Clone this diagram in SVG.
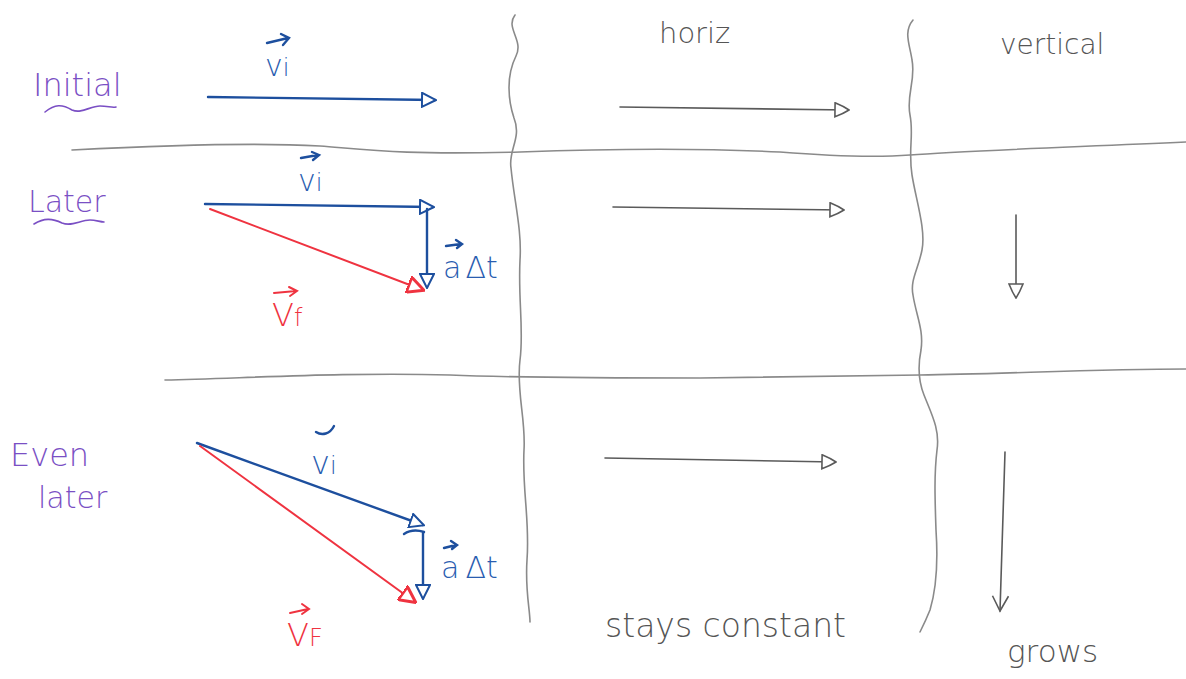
<svg xmlns="http://www.w3.org/2000/svg" width="1186" height="679" viewBox="0 0 1186 679">
<style>
.pencil{fill:none;stroke:#8a8a8a;stroke-width:1.6;stroke-linecap:round}
.garrow{fill:none;stroke:#5a5a5a;stroke-width:1.6;stroke-linecap:round}
.blue{fill:none;stroke:#1d4f9e;stroke-width:2.4;stroke-linecap:round}
.red{fill:none;stroke:#ef3340;stroke-width:2;stroke-linecap:round}
.lbl{font-family:"DejaVu Sans","Liberation Sans",sans-serif;font-weight:300}
.purple{fill:#7a4fc4}
.bluet{fill:#2a5db0}
.redt{fill:#ef3340}
.grayt{fill:#555}
.wave{fill:none;stroke:#7a4fc4;stroke-width:1.6;stroke-linecap:round}
</style>
<defs>
<marker id="hb" viewBox="0 0 16 16" refX="14" refY="8" markerWidth="16" markerHeight="16" markerUnits="userSpaceOnUse" orient="auto">
<path d="M1,1 L15,8 L1,15 Z" fill="#fff" stroke="#1d4f9e" stroke-width="2"/>
</marker>
<marker id="hr" viewBox="0 0 18 18" refX="16" refY="9" markerWidth="18" markerHeight="18" markerUnits="userSpaceOnUse" orient="auto">
<path d="M1,1 L17,9 L1,17 Z" fill="#fff" stroke="#ef3340" stroke-width="3"/>
</marker>
<marker id="hg" viewBox="0 0 16 16" refX="14" refY="8" markerWidth="16" markerHeight="16" markerUnits="userSpaceOnUse" orient="auto">
<path d="M1,1 C6,3 12,6 15,8 C12,10 6,13 1,15 Z" fill="#fff" stroke="#5a5a5a" stroke-width="1.6"/>
</marker>
<marker id="hv" viewBox="0 0 18 18" refX="16" refY="9" markerWidth="18" markerHeight="18" markerUnits="userSpaceOnUse" orient="auto">
<path d="M1,1 L16,9 L1,17" fill="none" stroke="#5a5a5a" stroke-width="1.6"/>
</marker>
</defs>

<g id="dividers">
<path class="pencil" d="M515,15 C505,28 524,40 516,56 C506,76 508,100 514,118 C522,138 508,150 511,168 C514,200 522,230 520,260 C518,300 524,330 520,360 C516,390 526,420 524,450 C522,490 530,520 527,560 C525,590 530,610 530,622"/>
<path class="pencil" d="M913,20 C903,32 910,45 912,60 C916,80 906,95 910,115 C914,135 908,150 912,175 C916,200 926,230 922,250 C918,270 910,280 913,295 C916,315 924,330 921,350 C918,365 918,380 924,395 C932,415 940,430 937,450 C934,475 935,500 936,530 C938,560 936,590 930,610 C926,620 922,628 920,632"/>
<path class="pencil" d="M72,150 C150,146 250,142 320,146 C370,150 400,155 520,152 C600,149 700,148 780,152 C830,156 870,158 910,155 C960,151 1050,148 1186,142"/>
<path class="pencil" d="M165,380 C250,378 350,372 450,375 C520,378 600,378 700,378 C800,376 880,375 920,375 C1000,374 1100,369 1186,369"/>
</g>

<g id="headers">
<text class="lbl grayt" x="659" y="43" font-size="29">horiz</text>
<text class="lbl grayt" x="1000" y="54" font-size="28">vertical</text>
</g>

<g id="row-initial">
<text class="lbl purple" x="33" y="96" font-size="32">Initial</text>
<path class="wave" d="M45,112 C55,104 62,104 72,110 C82,114 90,106 100,106 C108,106 112,108 116,107"/>
<text class="lbl bluet" x="265" y="76" font-size="30">v<tspan font-size="24">i</tspan></text>
<path class="blue" d="M267,43 L288,38 M281,34 L289,38 L283,45" stroke-width="1.8"/>
<line class="blue" x1="208" y1="97" x2="435" y2="100" marker-end="url(#hb)"/>
<line class="garrow" x1="620" y1="107" x2="848" y2="110" marker-end="url(#hg)"/>
</g>

<g id="row-later">
<text class="lbl purple" x="28" y="212" font-size="30">Later</text>
<path class="wave" d="M34,224 C44,218 52,218 62,223 C72,227 80,220 90,220 C96,220 100,222 104,222"/>
<text class="lbl bluet" x="298" y="191" font-size="30">v<tspan font-size="24">i</tspan></text>
<path class="blue" d="M301,158 L318,155 M312,152 L319,155 L313,160" stroke-width="1.8"/>
<line class="blue" x1="205" y1="204" x2="433" y2="207" marker-end="url(#hb)"/>
<line class="blue" x1="427" y1="209" x2="427" y2="287" marker-end="url(#hb)" stroke-width="1.8"/>
<line class="red" x1="210" y1="209" x2="423" y2="290" marker-end="url(#hr)"/>
<text class="lbl bluet" x="443" y="278" font-size="30">a<tspan dx="4">Δt</tspan></text>
<path class="blue" d="M446,246 L461,244 M456,240 L462,244 L457,248" stroke-width="1.6"/>
<text class="lbl redt" x="272" y="326" font-size="32">V<tspan font-size="24">f</tspan></text>
<path class="red" d="M274,293 L296,291 M289,287 L297,291 L290,296" stroke-width="2"/>
<line class="garrow" x1="613" y1="207" x2="843" y2="210" marker-end="url(#hg)"/>
<line class="garrow" x1="1016" y1="215" x2="1016" y2="297" marker-end="url(#hg)"/>
</g>

<g id="row-even-later">
<text class="lbl purple" x="10" y="466" font-size="32">Even</text>
<text class="lbl purple" x="38" y="508" font-size="30">later</text>
<text class="lbl bluet" x="311" y="474" font-size="32">v<tspan font-size="24">i</tspan></text>
<path class="blue" d="M316,432 C322,436 330,434 334,426" stroke-width="1.8"/>
<line class="blue" x1="197" y1="443" x2="423" y2="525" marker-end="url(#hb)" stroke-width="2.8"/>
<path class="blue" d="M404,534 C410,530 418,530 424,532" stroke-width="1.6"/>
<line class="blue" x1="423" y1="533" x2="423" y2="598" marker-end="url(#hb)" stroke-width="1.8"/>
<line class="red" x1="200" y1="446" x2="415" y2="602" marker-end="url(#hr)"/>
<text class="lbl bluet" x="441" y="578" font-size="30">a<tspan dx="6">Δt</tspan></text>
<path class="blue" d="M444,548 L456,545 M451,541 L457,545 L452,549" stroke-width="1.6"/>
<text class="lbl redt" x="287" y="646" font-size="32">V<tspan font-size="24">F</tspan></text>
<path class="red" d="M290,613 L308,609 M302,604 L309,609 L302,614" stroke-width="2"/>
<line class="garrow" x1="605" y1="458" x2="835" y2="462" marker-end="url(#hg)"/>
<line class="garrow" x1="1005" y1="452" x2="1000" y2="611" marker-end="url(#hv)"/>
</g>

<g id="footers">
<text class="lbl grayt" x="605" y="637" font-size="33">stays constant</text>
<text class="lbl grayt" x="1007" y="662" font-size="31">grows</text>
</g>
</svg>
